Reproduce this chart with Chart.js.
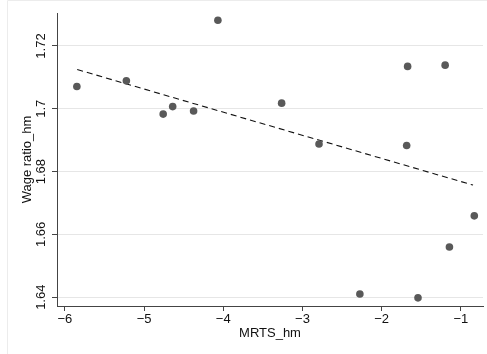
<!DOCTYPE html>
<html lang="en">
<head>
  <meta charset="UTF-8" />
  <title>Wage ratio vs MRTS</title>
  <script src="https://cdn.jsdelivr.net/npm/chart.js"></script>
  <style>
    html, body { margin: 0; padding: 0; background: #fff; }
    #wrap { width: 487px; height: 354px; }
  </style>
</head>
<body>
  <div id="wrap"><canvas id="grafico"></canvas></div>

  <script>
    // observed points (MRTS_hm, Wage ratio_hm)
    const mrts = [-5.849, -5.224, -4.759, -4.639, -4.375, -4.068, -3.263, -2.791,
                  -2.275, -1.684, -1.672, -1.541, -1.198, -1.144, -0.830];
    const wageRatio = [1.7071, 1.7089, 1.6983, 1.7007, 1.6993, 1.7282, 1.7018, 1.6888,
                       1.6410, 1.6883, 1.7135, 1.6398, 1.7139, 1.6560, 1.6659];

    // fitted line end points
    const fitX = [-5.845, -0.846];
    const fitY = [1.7125, 1.6757];

    const xTicks = [-6, -5, -4, -3, -2, -1];
    const yTicks = [1.64, 1.66, 1.68, 1.70, 1.72];

    const fonte = { family: "'Liberation Sans', Arial, Helvetica, sans-serif", size: 13 };

    // light outer frame like the stata graph region
    const moldura = {
      id: 'moldura',
      beforeDraw(chart) {
        const ctx = chart.ctx;
        ctx.save();
        ctx.strokeStyle = '#ececec';
        ctx.lineWidth = 1;
        ctx.beginPath();
        ctx.moveTo(7.5, 354);
        ctx.lineTo(7.5, 0.5);
        ctx.lineTo(487, 0.5);
        ctx.stroke();
        ctx.restore();
      }
    };

    new Chart(document.getElementById('grafico'), {
      type: 'scatter',
      data: {
        datasets: [{
          label: 'Wage ratio_hm',
          data: mrts.map((x, i) => ({ x: x, y: wageRatio[i] })),
          backgroundColor: '#595959',
          borderWidth: 0,
          pointRadius: 3.8
        }, {
          label: 'Fitted values',
          type: 'line',
          data: fitX.map((x, i) => ({ x: x, y: fitY[i] })),
          borderColor: '#111',
          borderWidth: 1.1,
          borderDash: [6, 4],
          pointRadius: 0,
          fill: false
        }]
      },
      options: {
        responsive: true,
        maintainAspectRatio: false,
        animation: false,
        layout: { padding: { left: 0, right: 2, top: 13, bottom: 0 } },
        plugins: {
          legend: { display: false },
          tooltip: { enabled: false }
        },
        scales: {
          x: {
            type: 'linear',
            min: -6.1,
            max: -0.72,
            afterBuildTicks: s => { s.ticks = xTicks.map(v => ({ value: v })); },
            afterFit: s => { s.height = 48; },
            ticks: {
              font: fonte,
              color: '#111',
              padding: 1,
              maxRotation: 0,
              callback: v => (v < 0 ? '\u2212' + Math.abs(v) : String(v))
            },
            grid: { drawOnChartArea: false, drawTicks: true, tickLength: 5, tickColor: '#444' },
            border: { color: '#444', width: 1 },
            title: {
              display: true,
              text: 'MRTS_hm',
              font: fonte,
              color: '#111',
              padding: { top: 0, bottom: 13 }
            }
          },
          y: {
            type: 'linear',
            min: 1.6372,
            max: 1.7305,
            afterBuildTicks: s => { s.ticks = yTicks.map(v => ({ value: v })); },
            afterFit: s => { s.width = 57; },
            ticks: {
              font: fonte,
              color: '#111',
              padding: -2.5,
              minRotation: 90,
              maxRotation: 90,
              crossAlign: 'center',
              callback: v => String(parseFloat(v.toFixed(2)))
            },
            grid: { color: '#e6e6e6', drawTicks: true, tickLength: 5, tickColor: '#444' },
            border: { color: '#444', width: 1 },
            title: {
              display: true,
              text: 'Wage ratio_hm',
              font: fonte,
              color: '#111',
              padding: { top: 20, bottom: 0 }
            }
          }
        }
      },
      plugins: [moldura]
    });
  </script>
</body>
</html>
